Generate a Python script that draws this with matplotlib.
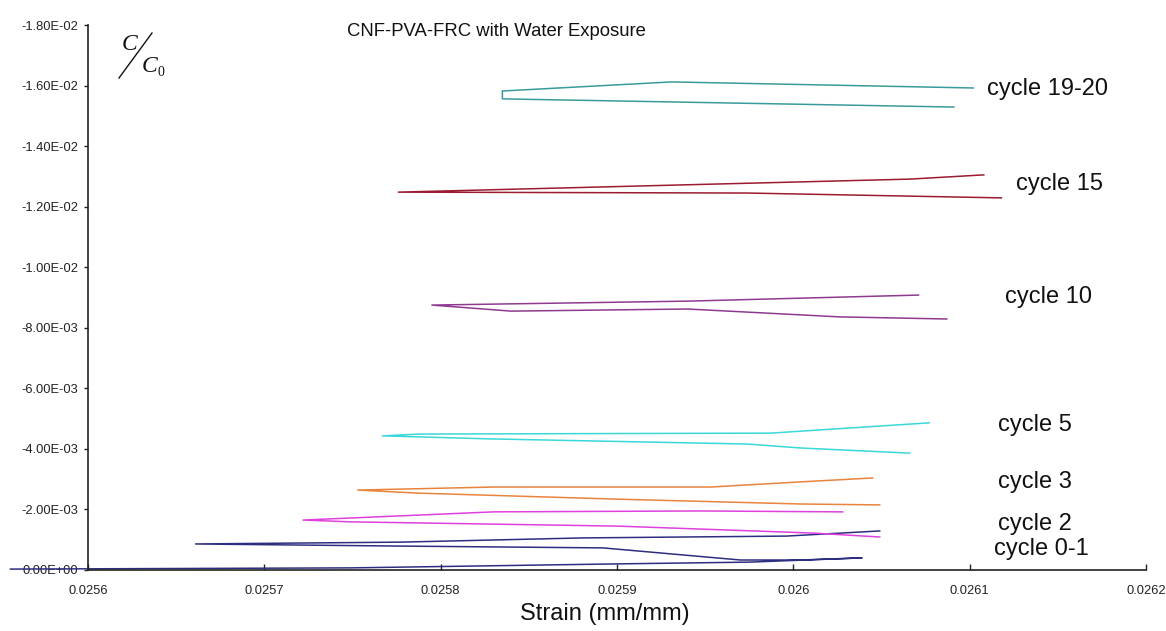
import matplotlib
matplotlib.use("Agg")
import matplotlib.pyplot as plt
from matplotlib.lines import Line2D
from matplotlib.ticker import FixedLocator, FuncFormatter

plt.rcParams['font.family'] = ['Liberation Sans', 'DejaVu Sans']

# ---- data (strain, C/C0) ----
c01_x = [0.025556, 0.025749, 0.025898, 0.025975, 0.026039, 0.026004, 0.025970,
         0.025892, 0.025777, 0.025661, 0.025777, 0.025881, 0.025996, 0.026049]
c01_y = [-0.00003, -0.00007, -0.00020, -0.00026, -0.00040, -0.00033, -0.00033,
         -0.00073, -0.00079, -0.00086, -0.00092, -0.00106, -0.00112, -0.00129]

c2_x = [0.026049, 0.026011, 0.025900, 0.025749, 0.025722, 0.025830, 0.025947, 0.026028]
c2_y = [-0.00109, -0.00122, -0.00145, -0.00159, -0.00165, -0.00192, -0.00195, -0.00192]

c3_x = [0.026049, 0.026004, 0.025900, 0.025787, 0.025753, 0.025830, 0.025953, 0.026004, 0.026045]
c3_y = [-0.00215, -0.00218, -0.00234, -0.00254, -0.00264, -0.00274, -0.00274, -0.00291, -0.00304]

c5_x = [0.026066, 0.026004, 0.025974, 0.025828, 0.025767, 0.025788, 0.025987, 0.026077]
c5_y = [-0.00386, -0.00403, -0.00416, -0.00433, -0.00443, -0.00449, -0.00452, -0.00486]

c10_x = [0.026087, 0.026026, 0.025940, 0.025840, 0.025795, 0.025940, 0.026071]
c10_y = [-0.00829, -0.00836, -0.00862, -0.00855, -0.00875, -0.00888, -0.00908]

c15_x = [0.026118, 0.025974, 0.025776, 0.026066, 0.026108]
c15_y = [-0.01229, -0.01245, -0.01248, -0.01291, -0.01305]

c1920_x = [0.026091, 0.025835, 0.025835, 0.025931, 0.026102]
c1920_y = [-0.01529, -0.01556, -0.01582, -0.01612, -0.01592]

labels = ["cycle 0-1", "cycle 2", "cycle 3", "cycle 5", "cycle 10", "cycle 15", "cycle 19-20"]

x_ticks = [0.0256, 0.0257, 0.0258, 0.0259, 0.0260, 0.0261, 0.0262]
y_ticks = [0.0, -0.002, -0.004, -0.006, -0.008, -0.010, -0.012, -0.014, -0.016, -0.018]

# ---- styling ----
series = [
    (c01_x, c01_y, "#2e2e80"),
    (c2_x, c2_y, "#e040e0"),
    (c3_x, c3_y, "#e8843c"),
    (c5_x, c5_y, "#3ad8d8"),
    (c10_x, c10_y, "#8e3a8e"),
    (c15_x, c15_y, "#9b1b30"),
    (c1920_x, c1920_y, "#3a9a9a"),
]
label_pos = [(0.026114, -0.00069), (0.026116, -0.00152), (0.026116, -0.00291),
             (0.026116, -0.00479), (0.026120, -0.00902), (0.026126, -0.01275),
             (0.026110, -0.01590)]

W, H = 1166, 631
fig = plt.figure(figsize=(W / 100, H / 100), dpi=100)
ax = fig.add_axes([88 / W, 1 - 570 / H, (1146 - 88) / W, (570 - 25) / H])

for (xs, ys, col) in series:
    ax.plot(xs, ys, color=col, lw=1.1, clip_on=False, solid_joinstyle='round')

for lab, (lx, ly) in zip(labels, label_pos):
    ax.text(lx, ly, lab, fontsize=17, ha='left', va='center', color='#111111')

ax.set_xlim(0.0256, 0.0262)
ax.set_ylim(0.0, -0.018)
ax.xaxis.set_major_locator(FixedLocator(x_ticks))
ax.yaxis.set_major_locator(FixedLocator(y_ticks))
ax.xaxis.set_major_formatter(FuncFormatter(lambda v, p: f"{v:.4f}".rstrip('0')))
ax.yaxis.set_major_formatter(FuncFormatter(lambda v, p: f"{v:.2E}"))

for s in ['top', 'right']:
    ax.spines[s].set_visible(False)
for s in ['left', 'bottom']:
    ax.spines[s].set_color('#222222')
    ax.spines[s].set_linewidth(1.2)

ax.tick_params(axis='x', direction='in', length=4, width=1, pad=11,
               labelsize=9.3, colors='#222222')
ax.tick_params(axis='y', direction='out', length=3, width=1, pad=4,
               labelsize=9.3, colors='#222222')

# title and axis label
fig.text(496 / W, 1 - 32 / H, "CNF-PVA-FRC with Water Exposure",
         ha='center', va='center', fontsize=13.3, color='#111111')
fig.text(605 / W, 1 - 614 / H, "Strain (mm/mm)", ha='center', va='center',
         fontsize=17, color='#111111')

# C / C0 label
fig.text(130 / W, 1 - 45 / H, "C", family=['Liberation Serif', 'DejaVu Serif'],
         style='italic', fontsize=17, ha='center', va='center', color='#111111')
fig.text(150 / W, 1 - 67 / H, "C", family=['Liberation Serif', 'DejaVu Serif'],
         style='italic', fontsize=17, ha='center', va='center', color='#111111')
fig.text(161 / W, 1 - 73 / H, "0", family=['Liberation Serif', 'DejaVu Serif'],
         fontsize=10, ha='center', va='center', color='#111111')
fig.add_artist(Line2D([119 / W, 152 / W], [1 - 78 / H, 1 - 33 / H],
                      transform=fig.transFigure, color='#111111', lw=1.0))

fig.savefig("out.png", dpi=100, facecolor='white')
